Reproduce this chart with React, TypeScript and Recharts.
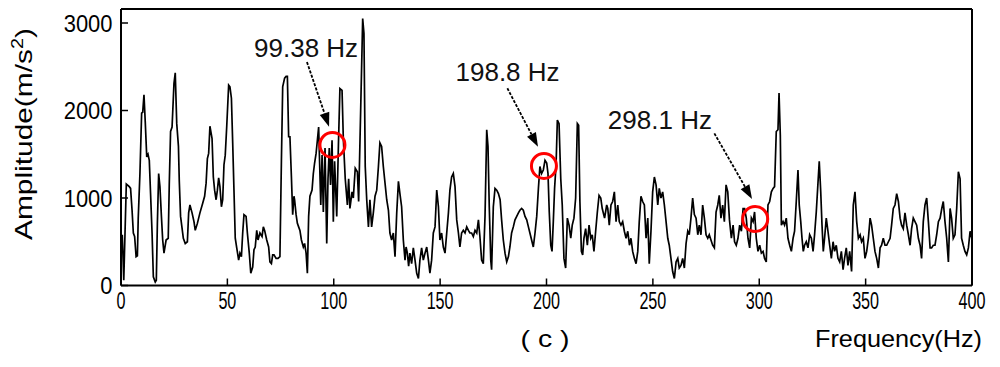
import { LineChart, Line, XAxis, YAxis, ReferenceDot, ReferenceLine, Label } from "recharts"

// spectrum: frequency (Hz) and amplitude (m/s^2)
const freqHz = [
  0.6, 1.3, 2.5, 3.9, 4.5, 5.2, 5.8, 6.4, 7.1, 7.7,
  8.1, 8.9, 9.7, 10.2, 10.8, 11.4, 12.1, 12.7, 13.3, 13.9,
  14.6, 15.2, 16.1, 16.6, 17.1, 17.7, 18.3, 19.0, 19.6, 20.2,
  21.2, 22.2, 22.7, 23.3, 24.0, 24.9, 25.5, 26.2, 27.0, 27.4,
  28.0, 29.3, 30.2, 31.2, 31.8, 32.4, 33.4, 34.3, 34.9, 35.9,
  37.1, 38.4, 39.3, 40.0, 40.6, 41.2, 41.8, 42.8, 43.4, 44.0,
  44.7, 45.3, 45.9, 46.5, 47.2, 47.8, 48.4, 49.0, 49.7, 50.6,
  51.2, 51.9, 52.5, 53.1, 53.7, 54.4, 55.3, 55.9, 56.6, 57.2,
  57.8, 58.8, 59.4, 60.3, 61.0, 61.9, 62.5, 63.1, 63.8, 64.4,
  65.3, 66.3, 66.9, 67.5, 68.5, 69.4, 70.0, 70.7, 71.3, 71.9,
  72.9, 73.8, 74.7, 75.4, 76.0, 76.9, 77.6, 78.2, 78.8, 79.4,
  80.1, 80.7, 81.3, 81.6, 82.3, 82.9, 83.5, 84.1, 84.8, 85.7,
  86.3, 87.0, 87.6, 88.2, 88.8, 89.8, 90.4, 91.0, 91.7, 92.3,
  92.9, 93.9, 94.5, 95.1, 95.9, 96.7, 97.3, 97.9, 98.5, 99.2,
  99.8, 100.4, 101.4, 102.2, 102.9, 103.9, 104.5, 105.4, 106.4, 107.0,
  107.6, 108.6, 109.2, 110.1, 111.1, 111.7, 112.6, 113.6, 114.2, 114.8,
  115.5, 116.3, 117.0, 117.8, 118.6, 119.4, 120.2, 121.0, 121.7, 122.5,
  123.3, 124.1, 124.9, 125.7, 126.4, 127.2, 128.0, 128.8, 129.6, 130.4,
  131.1, 131.9, 132.7, 133.5, 134.0, 134.6, 135.2, 135.8, 136.6, 137.4,
  138.2, 139.0, 139.8, 140.5, 141.3, 142.1, 142.9, 143.7, 144.5, 145.2,
  146.0, 146.8, 147.6, 148.4, 149.2, 149.9, 150.7, 151.5, 152.3, 153.1,
  153.9, 154.6, 155.4, 156.2, 157.0, 157.8, 158.6, 159.3, 160.1, 160.9,
  161.7, 162.5, 163.3, 164.0, 164.8, 165.6, 166.4, 167.2, 168.0, 168.7,
  169.5, 170.3, 171.1, 171.9, 172.5, 173.1, 173.8, 174.2, 175.0, 175.8,
  176.6, 177.4, 178.2, 178.9, 179.7, 180.5, 181.3, 182.1, 182.8, 183.6,
  184.4, 185.2, 186.0, 186.8, 187.5, 188.3, 189.1, 189.9, 190.7, 191.5,
  192.2, 193.0, 193.8, 194.6, 195.4, 196.2, 196.9, 197.7, 198.5, 199.3,
  200.1, 200.7, 201.3, 202.0, 202.6, 203.2, 203.8, 204.5, 205.1, 205.9,
  206.7, 207.4, 208.2, 209.0, 209.8, 210.6, 211.4, 212.1, 212.9, 213.7,
  214.5, 215.1, 215.7, 216.4, 217.0, 217.6, 218.4, 219.2, 220.0, 220.8,
  221.5, 222.3, 223.1, 223.9, 224.7, 225.5, 226.2, 227.3, 228.3, 228.8,
  229.5, 230.3, 231.1, 231.9, 232.7, 233.5, 234.2, 235.0, 235.8, 236.6,
  237.4, 238.2, 239.0, 239.7, 240.5, 241.3, 242.1, 242.9, 243.6, 244.4,
  245.2, 246.0, 246.8, 247.6, 248.3, 249.1, 249.9, 250.7, 251.5, 252.3,
  253.0, 253.8, 254.6, 255.4, 256.2, 257.0, 257.7, 258.5, 259.3, 260.1,
  260.9, 261.7, 262.4, 263.2, 264.0, 264.8, 265.6, 266.4, 267.1, 267.9,
  268.7, 269.5, 270.3, 271.1, 271.8, 272.6, 273.4, 274.2, 275.0, 275.8,
  276.5, 277.3, 278.1, 278.9, 279.7, 280.5, 281.2, 282.0, 282.8, 283.6,
  284.4, 285.2, 286.0, 286.9, 287.7, 288.4, 289.2, 290.0, 290.8, 291.6,
  292.4, 293.1, 293.9, 294.7, 295.5, 296.3, 297.1, 297.8, 298.6, 299.4,
  300.2, 301.0, 301.8, 302.5, 303.3, 304.1, 304.9, 305.7, 306.5, 307.2,
  308.0, 308.8, 309.3, 309.9, 310.4, 311.2, 311.9, 312.7, 313.5, 314.3,
  315.1, 315.9, 316.6, 317.4, 318.2, 318.8, 319.5, 320.1, 320.7, 321.3,
  322.1, 322.9, 323.7, 324.5, 325.3, 326.0, 326.8, 327.6, 328.2, 328.9,
  329.5, 330.1, 330.7, 331.5, 332.3, 333.1, 333.9, 334.7, 335.4, 336.2,
  337.0, 337.8, 338.6, 339.4, 340.1, 340.9, 341.7, 342.5, 343.4, 344.2,
  345.0, 345.8, 346.6, 347.4, 348.1, 348.9, 349.7, 350.5, 351.3, 352.1,
  352.8, 353.6, 354.4, 355.2, 356.0, 356.8, 357.5, 358.3, 359.1, 359.9,
  360.7, 361.5, 362.2, 363.0, 363.8, 364.6, 365.4, 366.2, 366.9, 367.7,
  368.5, 369.3, 370.1, 370.9, 371.6, 372.4, 373.2, 374.0, 374.8, 375.6,
  376.3, 377.1, 377.9, 378.7, 379.5, 380.3, 381.0, 381.8, 382.6, 383.4,
  384.2, 385.0, 385.8, 386.5, 387.3, 388.1, 388.9, 389.7, 390.4, 391.2,
  392.0, 392.8, 393.6, 394.4, 395.1, 395.9, 396.7, 397.5, 398.3, 399.1, 399.9,
]

const amplitude = [
  580, 60, 1160, 1130, 1110, 860, 600, 560, 330, 340,
  770, 1280, 1970, 1980, 2180, 1870, 1470, 1500, 1430, 1050,
  600, 100, 40, 60, 710, 1280, 1130, 790, 520, 370,
  520, 540, 1170, 1760, 1810, 2310, 2430, 1850, 1590, 1190,
  790, 540, 480, 500, 830, 920, 830, 730, 630, 710,
  830, 940, 1020, 1170, 1450, 1510, 1820, 1680, 1240, 1090,
  980, 1090, 1230, 1130, 900, 980, 1380, 1490, 1820, 2290,
  2270, 2140, 1630, 1090, 540, 430, 290, 370, 330, 600,
  810, 790, 600, 370, 140, 210, 410, 440, 630, 520,
  600, 560, 670, 630, 520, 440, 270, 250, 350, 350,
  310, 310, 330, 1430, 2270, 2370, 2390, 2390, 1700, 1700,
  1240, 810, 1020, 980, 810, 710, 670, 630, 520, 440,
  480, 370, 140, 790, 1020, 1090, 1280, 1400, 1510, 1660,
  1810, 920, 1490, 840, 1570, 480, 1220, 1570, 1150, 1660,
  730, 1420, 790, 1610, 2250, 2230, 1680, 1220, 920, 1220,
  880, 1070, 1000, 1340, 1300, 960, 1950, 3050, 2880, 1360,
  980, 670, 980, 670, 830, 1020, 1090, 1360, 1630, 1590,
  1360, 1170, 980, 860, 600, 520, 600, 330, 830, 1190,
  1050, 900, 520, 290, 440, 370, 220, 370, 250, 430,
  290, 140, 80, 290, 430, 290, 370, 440, 290, 140,
  290, 600, 670, 1090, 900, 520, 600, 440, 370, 600,
  830, 1090, 1240, 1280, 1130, 750, 600, 440, 600, 630,
  600, 670, 630, 600, 600, 560, 630, 600, 750, 560,
  290, 250, 790, 1780, 1590, 900, 290, 180, 900, 1110,
  1090, 1050, 980, 750, 520, 370, 270, 330, 440, 600,
  670, 750, 790, 830, 860, 880, 860, 790, 750, 670,
  600, 520, 440, 600, 790, 1110, 1360, 1280, 1320, 1430,
  1400, 1280, 840, 460, 390, 730, 1110, 1380, 1890, 1850,
  1220, 920, 310, 200, 770, 690, 540, 690, 770, 1000,
  1850, 1830, 960, 390, 350, 540, 650, 460, 690, 540,
  580, 390, 620, 840, 1030, 1000, 880, 770, 920, 880,
  690, 920, 960, 1070, 730, 920, 730, 690, 730, 620,
  540, 620, 460, 540, 390, 310, 250, 390, 730, 1020,
  960, 920, 540, 770, 250, 620, 1070, 1240, 1150, 920,
  1110, 1000, 1070, 920, 730, 540, 460, 310, 160, 80,
  270, 310, 200, 230, 310, 200, 480, 620, 580, 770,
  1000, 810, 770, 580, 690, 580, 920, 770, 580, 540,
  580, 520, 460, 430, 840, 920, 1030, 770, 920, 730,
  1150, 1070, 750, 540, 690, 500, 460, 540, 690, 620,
  880, 880, 770, 540, 430, 770, 730, 840, 540, 390,
  460, 370, 390, 310, 270, 920, 960, 1070, 1110, 1130,
  1760, 1780, 2200, 1720, 690, 730, 690, 770, 540, 460,
  390, 540, 620, 960, 1320, 920, 730, 540, 390, 460,
  500, 430, 580, 540, 390, 580, 840, 1170, 1420, 1070,
  690, 390, 540, 770, 620, 460, 310, 500, 390, 460,
  310, 270, 390, 180, 310, 430, 230, 390, 160, 920,
  1070, 730, 540, 580, 500, 540, 310, 390, 540, 770,
  690, 540, 390, 310, 200, 430, 460, 540, 460, 460,
  500, 540, 690, 880, 920, 1050, 960, 770, 690, 650,
  830, 690, 580, 460, 650, 770, 730, 690, 540, 460,
  310, 730, 920, 1000, 730, 430, 430, 460, 460, 580,
  730, 770, 880, 960, 730, 540, 270, 880, 770, 540,
  580, 880, 1300, 1220, 540, 460, 390, 350, 430, 620, 540,
]

const xTicks = [0, 50, 100, 150, 200, 250, 300, 350, 400]
const yTicks = [0, 1000, 2000, 3000]

// marked harmonics and where their callout text / arrow sit (data units)
const callouts = [
  { label: "99.38 Hz", peakHz: 99.38, peakAmp: 1606, textHz: 87.0, textAmp: 2611, tailHz: 87.4, tailAmp: 2554, headHz: 97.8, headAmp: 1815 },
  { label: "198.8 Hz", peakHz: 198.8, peakAmp: 1366, textHz: 181.7, textAmp: 2337, tailHz: 181.6, tailAmp: 2254, headHz: 196.0, headAmp: 1586 },
  { label: "298.1 Hz", peakHz: 298.1, peakAmp: 760, textHz: 253.3, textAmp: 1789, tailHz: 278.9, tailAmp: 1739, headHz: 296.6, headAmp: 989 },
]

const data = freqHz.map((f, i) => ({ f, a: amplitude[i] }))

const FONT = "'Liberation Sans', Arial, sans-serif"

const XTick = (props: any) => {
  const { x, y, payload } = props
  const s = String(payload.value)
  return (
    <text x={x} y={y + 30.5} textAnchor="middle" fontSize={24} fontFamily={FONT} fill="#000"
      textLength={9 * s.length} lengthAdjust="spacingAndGlyphs">{s}</text>
  )
}

const YTick = (props: any) => {
  const { x, y, payload } = props
  const s = String(payload.value)
  return (
    <text x={x - 15.5} y={y + 8.5} textAnchor="end" fontSize={24} fontFamily={FONT} fill="#000"
      textLength={12.2 * s.length} lengthAdjust="spacingAndGlyphs">{s}</text>
  )
}

const Arrow = (props: any) => {
  const { x1, y1, x2, y2 } = props
  const ang = Math.atan2(y2 - y1, x2 - x1)
  const len = 14
  const hw = 5
  const bx = x2 - len * Math.cos(ang)
  const by = y2 - len * Math.sin(ang)
  const px = -Math.sin(ang) * hw
  const py = Math.cos(ang) * hw
  return (
    <g>
      <line x1={x1} y1={y1} x2={bx} y2={by} stroke="#000" strokeWidth={1.8} strokeDasharray="3 1.5" />
      <polygon points={`${x2},${y2} ${bx + px},${by + py} ${bx - px},${by - py}`} fill="#000" />
    </g>
  )
}

const calloutText = (label: string) => (p: any) => (
  <text x={p.cx} y={p.cy} textAnchor="middle" fontSize={26} fontFamily={FONT} fill="#111">{label}</text>
)

export default function App() {
  const axisLine = { stroke: "#000", strokeWidth: 2 }
  const tickLine = { stroke: "#000", strokeWidth: 1.5 }
  return (
    <div style={{ position: "absolute", left: 0, top: 0, width: 1000, height: 367, background: "#fff" }}>
      <LineChart width={1000} height={367} data={data} margin={{ top: 8, right: 27, bottom: 0, left: 0 }}>
        <XAxis xAxisId="b" dataKey="f" type="number" domain={[0, 400]} ticks={xTicks} interval={0}
          allowDataOverflow height={81.5} axisLine={axisLine} tickLine={tickLine} tickSize={-7} tickMargin={0}
          tick={<XTick />}>
          <Label content={(p: any) => {
            const vb = p.viewBox
            return (
              <g>
                <text x={545} y={vb.y + 61.5} textAnchor="middle" fontSize={24} fontFamily={FONT} fill="#000"
                  textLength={49} lengthAdjust="spacingAndGlyphs">( c )</text>
                <text x={vb.x + vb.width + 10} y={vb.y + 61.5} textAnchor="end" fontSize={24} fontFamily={FONT} fill="#000"
                  textLength={167} lengthAdjust="spacingAndGlyphs">Frequency(Hz)</text>
              </g>
            )
          }} />
        </XAxis>
        <XAxis xAxisId="t" orientation="top" dataKey="f" type="number" domain={[0, 400]} ticks={xTicks} interval={0}
          allowDataOverflow height={1} axisLine={axisLine} tickLine={tickLine} tickSize={-7} tick={false} />
        <YAxis yAxisId="l" type="number" domain={[0, 3160]} ticks={yTicks} interval={0} allowDataOverflow
          width={121} axisLine={axisLine} tickLine={tickLine} tickSize={-7} tickMargin={0} tick={<YTick />}>
          <Label content={(p: any) => {
            const vb = p.viewBox
            const cy = vb.y + 125
            return (
              <text x={32} y={cy} transform={`rotate(-90, 32, ${cy})`} textAnchor="middle" fontSize={24}
                fontFamily={FONT} fill="#000" textLength={212} lengthAdjust="spacingAndGlyphs">
                Amplitude(m/s<tspan dy={-9} fontSize={16}>2</tspan><tspan dy={9}>)</tspan>
              </text>
            )
          }} />
        </YAxis>
        <YAxis yAxisId="r" orientation="right" type="number" domain={[0, 3160]} ticks={yTicks} interval={0}
          allowDataOverflow width={1} axisLine={axisLine} tickLine={tickLine} tickSize={-7} tick={false} />
        <Line xAxisId="b" yAxisId="l" dataKey="a" type="linear" stroke="#000" strokeWidth={1.7} dot={false}
          activeDot={false} isAnimationActive={false} />
        {callouts.map((c) => (
          <ReferenceLine key={c.label + "-arrow"} xAxisId="b" yAxisId="l"
            segment={[{ x: c.tailHz, y: c.tailAmp }, { x: c.headHz, y: c.headAmp }]} shape={<Arrow />} />
        ))}
        {callouts.map((c) => (
          <ReferenceDot key={c.label + "-circle"} xAxisId="b" yAxisId="l" x={c.peakHz} y={c.peakAmp} r={12.5}
            fill="none" stroke="#ff0000" strokeWidth={3} />
        ))}
        {callouts.map((c) => (
          <ReferenceDot key={c.label + "-text"} xAxisId="b" yAxisId="l" x={c.textHz} y={c.textAmp}
            shape={calloutText(c.label)} />
        ))}
      </LineChart>
    </div>
  )
}
